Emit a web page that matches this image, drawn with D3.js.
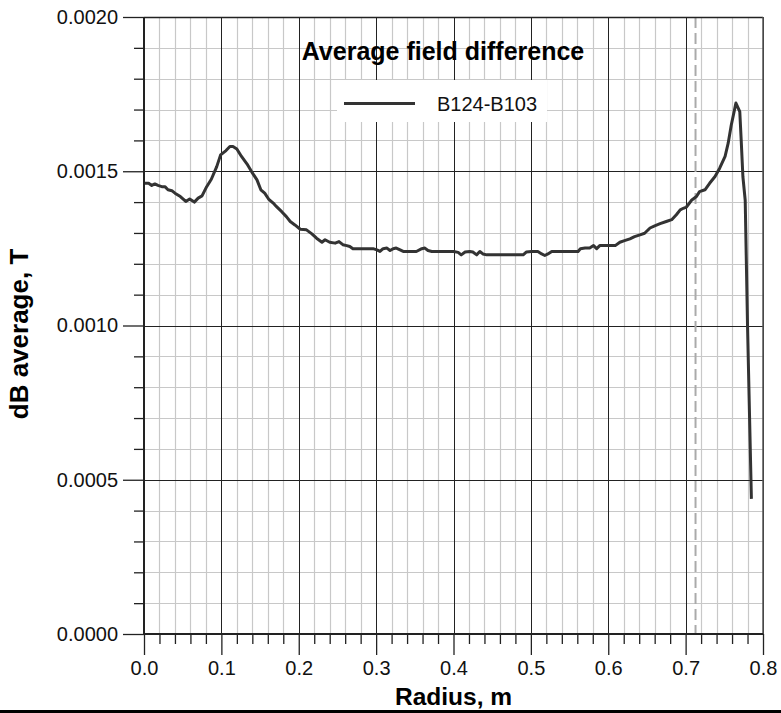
<!DOCTYPE html>
<html>
<head>
<meta charset="utf-8">
<script src="https://cdn.jsdelivr.net/npm/d3@7"></script>
<style>
  body { margin: 0; background: #fff; }
  text { font-family: "Liberation Sans", Arial, sans-serif; }
</style>
</head>
<body>
<div id="chart"></div>
<script>
// radius (m) and averaged field difference (T)
var radius = [
  0.000, 0.006, 0.010, 0.014, 0.018, 0.023, 0.027, 0.031, 0.036, 0.040,
  0.047, 0.054, 0.059, 0.065, 0.070, 0.075, 0.081, 0.087, 0.094, 0.099,
  0.106, 0.111, 0.115, 0.120, 0.126, 0.133, 0.139, 0.146, 0.151, 0.156,
  0.161, 0.167, 0.171, 0.178, 0.184, 0.189, 0.195, 0.202, 0.210, 0.217,
  0.223, 0.230, 0.234, 0.240, 0.247, 0.252, 0.257, 0.262, 0.266, 0.270,
  0.296, 0.301, 0.305, 0.309, 0.314, 0.318, 0.322, 0.326, 0.331, 0.335,
  0.352, 0.359, 0.363, 0.367, 0.372, 0.400, 0.406, 0.410, 0.415, 0.421,
  0.425, 0.430, 0.434, 0.438, 0.443, 0.490, 0.494, 0.501, 0.509, 0.514,
  0.518, 0.522, 0.527, 0.561, 0.564, 0.570, 0.576, 0.581, 0.585, 0.589,
  0.609, 0.615, 0.621, 0.628, 0.634, 0.641, 0.647, 0.654, 0.660, 0.667,
  0.675, 0.682, 0.688, 0.693, 0.697, 0.701, 0.705, 0.708, 0.714, 0.718,
  0.725, 0.731, 0.738, 0.744, 0.751, 0.755, 0.759, 0.765, 0.770, 0.772,
  0.774, 0.777, 0.780, 0.785
];
var dB = [
  0.001461, 0.001461, 0.001454, 0.001459, 0.001454, 0.001450, 0.001450, 0.001440, 0.001437, 0.001429,
  0.001418, 0.001402, 0.001410, 0.001400, 0.001413, 0.001420, 0.001450, 0.001474, 0.001515, 0.001553,
  0.001567, 0.001580, 0.001580, 0.001572, 0.001548, 0.001524, 0.001499, 0.001472, 0.001440, 0.001429,
  0.001410, 0.001397, 0.001386, 0.001369, 0.001353, 0.001337, 0.001326, 0.001312, 0.001310, 0.001297,
  0.001283, 0.001270, 0.001278, 0.001270, 0.001267, 0.001272, 0.001262, 0.001259, 0.001256, 0.001249,
  0.001249, 0.001245, 0.001240, 0.001249, 0.001251, 0.001243, 0.001249, 0.001251, 0.001245, 0.001240,
  0.001240, 0.001249, 0.001251, 0.001243, 0.001240, 0.001240, 0.001237, 0.001229, 0.001238, 0.001240,
  0.001238, 0.001229, 0.001240, 0.001232, 0.001229, 0.001229, 0.001238, 0.001240, 0.001240, 0.001232,
  0.001227, 0.001232, 0.001240, 0.001240, 0.001249, 0.001251, 0.001251, 0.001259, 0.001249, 0.001259,
  0.001259, 0.001270, 0.001275, 0.001281, 0.001288, 0.001294, 0.001299, 0.001316, 0.001323, 0.001330,
  0.001337, 0.001343, 0.001359, 0.001375, 0.001380, 0.001384, 0.001397, 0.001407, 0.001418, 0.001434,
  0.001440, 0.001461, 0.001483, 0.001510, 0.001548, 0.001591, 0.001650, 0.001721, 0.001693, 0.001591,
  0.001483, 0.001406, 0.000999, 0.000438
];

var xTicks = [0, 0.1, 0.2, 0.3, 0.4, 0.5, 0.6, 0.7, 0.8];
var yTicks = [0, 0.0005, 0.0010, 0.0015, 0.0020];
var xMinorStep = 0.02;
var yMinorStep = 0.0001;
var markerRadius = 0.7128;   // dashed vertical reference

var chartTitle = "Average field difference";
var seriesName = "B124-B103";
var xTitle = "Radius, m";
var yTitle = "dB average, T";

var svgWidth = 781;
var svgHeight = 713;

var margin = { top: 17, right: 18, bottom: 79, left: 144 };
var width = svgWidth - margin.left - margin.right;
var height = svgHeight - margin.top - margin.bottom;

var svg = d3.select("#chart")
  .append("svg")
  .attr("width", svgWidth)
  .attr("height", svgHeight);

var chartGroup = svg.append("g")
  .attr("transform", `translate(${margin.left}, ${margin.top})`);

var xScale = d3.scaleLinear().domain([0, 0.8]).range([0, width]);
var yScale = d3.scaleLinear().domain([0, 0.002]).range([height, 0]);

var xMinor = d3.range(0, 41).map(i => +(i * xMinorStep).toFixed(3)).filter(v => xTicks.indexOf(v) < 0);
var yMinor = d3.range(0, 21).map(i => +(i * yMinorStep).toFixed(5)).filter(v => yTicks.every(t => Math.abs(t - v) > 1e-9));

// minor grid
chartGroup.append("g")
  .attr("class", "grid-minor")
  .selectAll("line.v")
  .data(xMinor)
  .enter()
  .append("line")
  .attr("x1", d => Math.round(xScale(d)) + 0.5)
  .attr("x2", d => Math.round(xScale(d)) + 0.5)
  .attr("y1", 0)
  .attr("y2", height)
  .attr("stroke", "#c8c8c8")
  .attr("stroke-width", 1.2);

chartGroup.select(".grid-minor")
  .selectAll("line.h")
  .data(yMinor)
  .enter()
  .append("line")
  .attr("x1", 0)
  .attr("x2", width)
  .attr("y1", d => Math.round(yScale(d)) + 0.5)
  .attr("y2", d => Math.round(yScale(d)) + 0.5)
  .attr("stroke", "#c8c8c8")
  .attr("stroke-width", 1.2);

// major grid
var major = chartGroup.append("g").attr("class", "grid-major");
major.selectAll("line.v")
  .data(xTicks)
  .enter()
  .append("line")
  .attr("x1", d => Math.round(xScale(d)) + 0.5)
  .attr("x2", d => Math.round(xScale(d)) + 0.5)
  .attr("y1", 0)
  .attr("y2", height)
  .attr("stroke", "#222")
  .attr("stroke-width", 1);

major.selectAll("line.h")
  .data(yTicks)
  .enter()
  .append("line")
  .attr("x1", 0)
  .attr("x2", width)
  .attr("y1", d => Math.round(yScale(d)) + 0.5)
  .attr("y2", d => Math.round(yScale(d)) + 0.5)
  .attr("stroke", "#222")
  .attr("stroke-width", 1);

// legend box hides the grid behind it
chartGroup.append("rect")
  .attr("x", 337 - margin.left)
  .attr("y", 80 - margin.top)
  .attr("width", 210)
  .attr("height", 42)
  .attr("fill", "#fff");

// dashed reference line
chartGroup.append("line")
  .attr("x1", xScale(markerRadius))
  .attr("x2", xScale(markerRadius))
  .attr("y1", 0)
  .attr("y2", height)
  .attr("stroke", "#aaa")
  .attr("stroke-width", 2)
  .attr("stroke-dasharray", "11,5");

// curve
var line = d3.line()
  .x((d, i) => xScale(radius[i]))
  .y(d => yScale(d));

chartGroup.append("path")
  .datum(dB)
  .attr("d", line)
  .attr("fill", "none")
  .attr("stroke", "#333")
  .attr("stroke-width", 3)
  .attr("stroke-linejoin", "round");

// axes
var bottomAxis = d3.axisBottom(xScale)
  .tickValues(xTicks)
  .tickSize(21)
  .tickPadding(6)
  .tickFormat(d3.format(".1f"));
var bottomMinor = d3.axisBottom(xScale).tickValues(xMinor).tickSize(10).tickFormat("");

var leftAxis = d3.axisLeft(yScale)
  .tickValues(yTicks)
  .tickSize(21)
  .tickPadding(5)
  .tickFormat(d3.format(".4f"));
var leftMinor = d3.axisLeft(yScale).tickValues(yMinor).tickSize(10).tickFormat("");

chartGroup.append("g")
  .attr("transform", `translate(0, ${height})`)
  .call(bottomAxis);
chartGroup.append("g")
  .attr("transform", `translate(0, ${height})`)
  .call(bottomMinor);

chartGroup.append("g").call(leftAxis);
chartGroup.append("g").call(leftMinor);

chartGroup.selectAll(".domain").remove();
chartGroup.selectAll(".tick line").attr("stroke", "#222").attr("stroke-width", 1.3);
chartGroup.selectAll(".tick text")
  .attr("font-size", 20)
  .attr("fill", "#111");

// frame
chartGroup.append("line")
  .attr("x1", 0).attr("x2", width).attr("y1", 0.5).attr("y2", 0.5)
  .attr("stroke", "#222").attr("stroke-width", 1.3);
chartGroup.append("line")
  .attr("x1", width).attr("x2", width).attr("y1", 0).attr("y2", height)
  .attr("stroke", "#555").attr("stroke-width", 1.5);
chartGroup.append("line")
  .attr("x1", 0).attr("x2", 0).attr("y1", 0).attr("y2", height)
  .attr("stroke", "#222").attr("stroke-width", 2);
chartGroup.append("line")
  .attr("x1", 0).attr("x2", width).attr("y1", height).attr("y2", height)
  .attr("stroke", "#222").attr("stroke-width", 2);

// title and legend
chartGroup.append("text")
  .attr("x", 443 - margin.left)
  .attr("y", 60 - margin.top)
  .attr("text-anchor", "middle")
  .attr("font-size", 25)
  .attr("font-weight", "bold")
  .text(chartTitle);

chartGroup.append("line")
  .attr("x1", 344 - margin.left)
  .attr("x2", 415 - margin.left)
  .attr("y1", 103.5 - margin.top)
  .attr("y2", 103.5 - margin.top)
  .attr("stroke", "#333")
  .attr("stroke-width", 3);

chartGroup.append("text")
  .attr("x", 437 - margin.left)
  .attr("y", 110.5 - margin.top)
  .attr("font-size", 20)
  .attr("fill", "#111")
  .text(seriesName);

// axis titles
svg.append("text")
  .attr("x", margin.left + width / 2)
  .attr("y", 705)
  .attr("text-anchor", "middle")
  .attr("font-size", 24.5)
  .attr("font-weight", "bold")
  .text(xTitle);

svg.append("text")
  .attr("transform", "rotate(-90)")
  .attr("x", -334)
  .attr("y", 28)
  .attr("text-anchor", "middle")
  .attr("font-size", 26)
  .attr("font-weight", "bold")
  .text(yTitle);

// bottom rule
svg.append("rect")
  .attr("x", 0)
  .attr("y", 710)
  .attr("width", svgWidth)
  .attr("height", 3)
  .attr("fill", "#000");
</script>
</body>
</html>
